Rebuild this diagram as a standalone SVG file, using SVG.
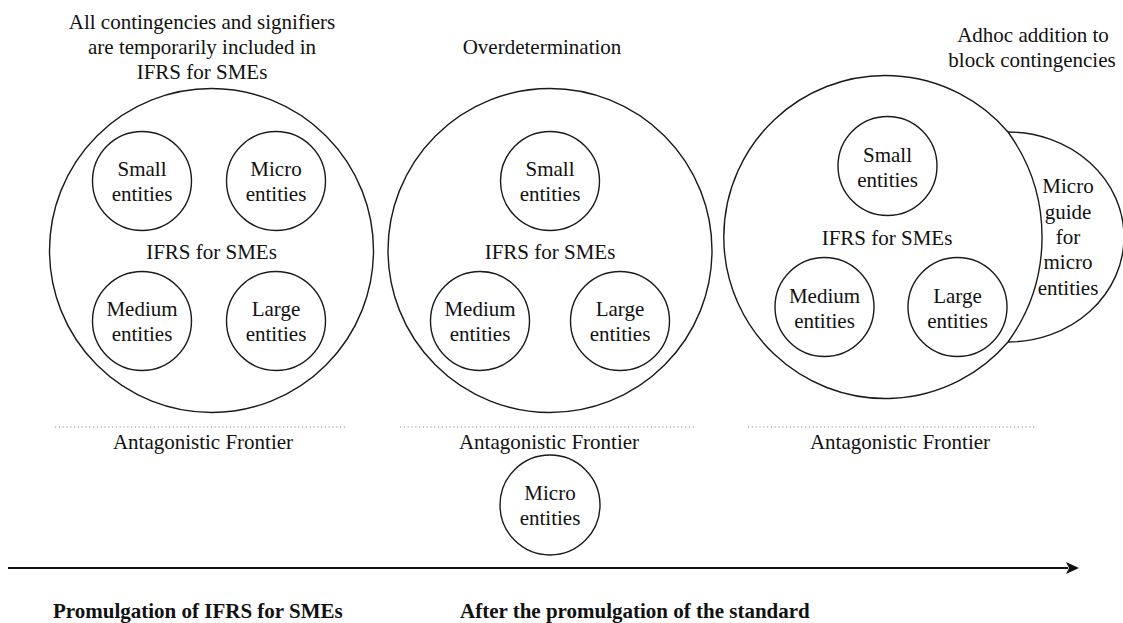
<svg xmlns="http://www.w3.org/2000/svg" width="1123" height="623" viewBox="0 0 1123 623">
<style>
  .c { fill: none; stroke: #1a1a1a; stroke-width: 1.4; }
  text { font-family: 'Liberation Serif', 'DejaVu Serif', serif; }
  .t { font-size: 21px; fill: #111; text-anchor: middle; }
  .b { font-size: 21px; font-weight: bold; fill: #111; }
  .dot { stroke: #8a8a8a; stroke-width: 1.2; stroke-dasharray: 1.2 2.6; fill: none; }
  .ax { stroke: #111; stroke-width: 2; fill: none; }
</style>
<rect width="1123" height="623" fill="#fff"/>

<!-- Panel 1 -->
<g id="title1">
  <text class="t" x="202" y="29">All contingencies and signifiers</text>
  <text class="t" x="202" y="54">are temporarily included in</text>
  <text class="t" x="202" y="79">IFRS for SMEs</text>
</g>
<g id="ifrs1">
  <circle class="c" cx="211.5" cy="250.5" r="162"/>
  <text class="t" x="211.5" y="259">IFRS for SMEs</text>
</g>
<g id="small1">
  <circle class="c" cx="142" cy="181" r="49.5"/>
  <text class="t" x="142" y="176">Small</text>
  <text class="t" x="142" y="201">entities</text>
</g>
<g id="micro1">
  <circle class="c" cx="276" cy="181" r="49.5"/>
  <text class="t" x="276" y="176">Micro</text>
  <text class="t" x="276" y="201">entities</text>
</g>
<g id="medium1">
  <circle class="c" cx="142" cy="321" r="49.5"/>
  <text class="t" x="142" y="316">Medium</text>
  <text class="t" x="142" y="341">entities</text>
</g>
<g id="large1">
  <circle class="c" cx="276" cy="321" r="49.5"/>
  <text class="t" x="276" y="316">Large</text>
  <text class="t" x="276" y="341">entities</text>
</g>
<g id="frontier1">
  <line class="dot" x1="55" y1="427" x2="345" y2="427"/>
  <text class="t" x="203" y="449">Antagonistic Frontier</text>
</g>

<!-- Panel 2 -->
<g id="title2">
  <text class="t" x="542" y="54">Overdetermination</text>
</g>
<g id="ifrs2">
  <circle class="c" cx="550" cy="250.5" r="162"/>
  <text class="t" x="550" y="259">IFRS for SMEs</text>
</g>
<g id="small2">
  <circle class="c" cx="550" cy="181" r="49.5"/>
  <text class="t" x="550" y="176">Small</text>
  <text class="t" x="550" y="201">entities</text>
</g>
<g id="medium2">
  <circle class="c" cx="480" cy="321" r="49.5"/>
  <text class="t" x="480" y="316">Medium</text>
  <text class="t" x="480" y="341">entities</text>
</g>
<g id="large2">
  <circle class="c" cx="620" cy="321" r="49.5"/>
  <text class="t" x="620" y="316">Large</text>
  <text class="t" x="620" y="341">entities</text>
</g>
<g id="frontier2">
  <line class="dot" x1="400" y1="427" x2="695" y2="427"/>
  <text class="t" x="549" y="449">Antagonistic Frontier</text>
</g>
<g id="micro2">
  <circle class="c" cx="550" cy="505" r="50"/>
  <text class="t" x="550" y="500">Micro</text>
  <text class="t" x="550" y="525">entities</text>
</g>

<!-- Panel 3 -->
<g id="title3">
  <text class="t" x="1033" y="42">Adhoc addition to</text>
  <text class="t" x="1032" y="67">block contingencies</text>
</g>
<g id="ifrs3">
  <path class="c" d="M1008,132 A161.5,161.5 0 1 0 1008,342 A179,179 0 0 0 1008,132 Z"/>
  <text class="t" x="887" y="245">IFRS for SMEs</text>
</g>
<g id="guide3">
  <path class="c" d="M1008,132 A116,105 0 0 1 1008,342"/>
  <text class="t" x="1068" y="193">Micro</text>
  <text class="t" x="1068" y="218.5">guide</text>
  <text class="t" x="1068" y="244">for</text>
  <text class="t" x="1068" y="269">micro</text>
  <text class="t" x="1068" y="294.5">entities</text>
</g>
<g id="small3">
  <circle class="c" cx="887.5" cy="166" r="49.5"/>
  <text class="t" x="887.5" y="162">Small</text>
  <text class="t" x="887.5" y="187">entities</text>
</g>
<g id="medium3">
  <circle class="c" cx="824.5" cy="307" r="49.5"/>
  <text class="t" x="824.5" y="303">Medium</text>
  <text class="t" x="824.5" y="328">entities</text>
</g>
<g id="large3">
  <circle class="c" cx="957.5" cy="307" r="49.5"/>
  <text class="t" x="957.5" y="303">Large</text>
  <text class="t" x="957.5" y="328">entities</text>
</g>
<g id="frontier3">
  <line class="dot" x1="748" y1="427" x2="1037" y2="427"/>
  <text class="t" x="900" y="449">Antagonistic Frontier</text>
</g>

<!-- Timeline -->
<g id="connectors">
  <line class="ax" x1="8" y1="568" x2="1068" y2="568"/>
  <path d="M1066,562 L1079,568 L1066,574 L1069,568 Z" fill="#111"/>
</g>
<g id="labels">
  <text class="b" x="53" y="618">Promulgation of IFRS for SMEs</text>
  <text class="b" x="460" y="618">After the promulgation of the standard</text>
</g>
</svg>
